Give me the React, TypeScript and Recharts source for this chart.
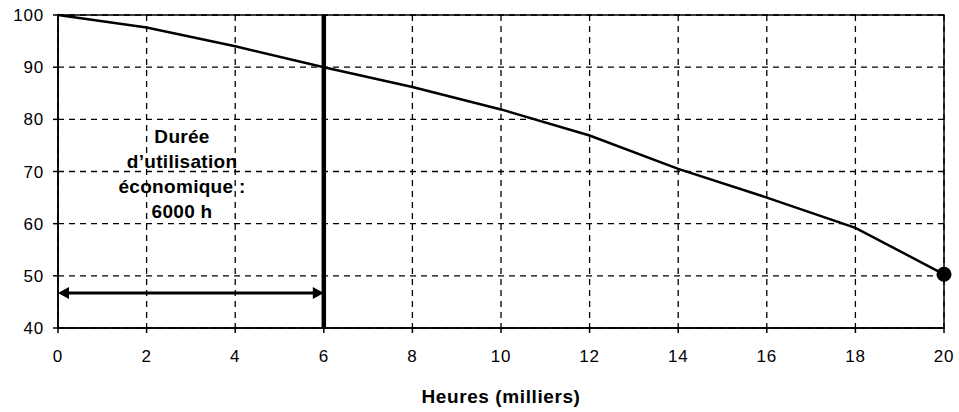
import React from "react";
import {
  LineChart,
  Line,
  XAxis,
  YAxis,
  CartesianGrid,
  ReferenceLine,
  ReferenceArea,
  ReferenceDot,
  Label,
} from "recharts";

const hours = [0, 2, 4, 6, 8, 10, 12, 14, 16, 18, 20];
const values = [100, 97.6, 94, 90, 86.2, 81.9, 76.9, 70.5, 65, 59.2, 50.3];
const xTicks = [0, 2, 4, 6, 8, 10, 12, 14, 16, 18, 20];
const yTicks = [40, 50, 60, 70, 80, 90, 100];
const noteLines = ["Durée", "d’utilisation", "économique :", "6000 h"];
const lifetime = 6;
const arrowLevel = 46.7;
const noteAnchor = { x: 2.8, y: 69.5 };

const data = hours.map((h, i) => ({ h, v: values[i] }));

const font = "'Liberation Sans', Arial, sans-serif";

function EndDot(props: any) {
  const { cx, cy, index } = props;
  if (index !== data.length - 1) return <g key={index} />;
  return <circle key={index} cx={cx} cy={cy} r={7.5} fill="#000" />;
}

function ArrowShape(props: any) {
  const { x1, y1, x2, y2 } = props;
  if (x1 == null) return null;
  const y = y1;
  const a = 11;
  const w = 6;
  return (
    <g>
      <line x1={x1 + 4} y1={y} x2={x2 - 4} y2={y2} stroke="#000" strokeWidth={3} />
      <polygon points={`${x1},${y} ${x1 + a},${y - w} ${x1 + a},${y + w}`} fill="#000" />
      <polygon points={`${x2},${y} ${x2 - a},${y - w} ${x2 - a},${y + w}`} fill="#000" />
    </g>
  );
}

function NoteShape(props: any) {
  const { cx, cy } = props;
  const gap = 25;
  const start = cy - ((noteLines.length - 1) * gap) / 2;
  return (
    <g>
      {noteLines.map((t, i) => (
        <text
          key={i}
          x={cx}
          y={start + i * gap}
          textAnchor="middle"
          dominantBaseline="central"
          fontFamily={font}
          fontWeight="bold"
          fontSize={19}
          letterSpacing={0.3}
          fill="#000"
        >
          {t}
        </text>
      ))}
    </g>
  );
}

export default function App() {
  return (
    <div style={{ position: "absolute", left: 0, top: 0, background: "#fff" }}>
      <LineChart
        width={959}
        height={412}
        data={data}
        margin={{ top: 15, right: 15, bottom: 0, left: 0 }}
      >
        <CartesianGrid stroke="#000" strokeDasharray="6 5" strokeWidth={1.3} />
        <XAxis
          dataKey="h"
          type="number"
          domain={[0, 20]}
          ticks={xTicks}
          height={84}
          stroke="#000"
          strokeWidth={1.5}
          tickSize={5}
          tickMargin={17}
          tick={{ fill: "#000", fontSize: 17, fontFamily: font, letterSpacing: 0.8 }}
        >
          <Label
            value="Heures (milliers)"
            position="insideBottom"
            offset={9}
            style={{ fill: "#000", fontSize: 19, fontWeight: "bold", fontFamily: font, letterSpacing: 0.6 }}
          />
        </XAxis>
        <YAxis
          type="number"
          domain={[40, 100]}
          ticks={yTicks}
          width={58}
          stroke="#000"
          strokeWidth={1.5}
          tickSize={5}
          tickMargin={9}
          tick={{ fill: "#000", fontSize: 17, fontFamily: font, letterSpacing: 0.8 }}
        />
        <ReferenceArea x1={0} x2={20} y1={40} y2={100} fill="none" stroke="#000" strokeWidth={1.5} />
        <ReferenceLine x={lifetime} stroke="#000" strokeWidth={4.5} />
        <ReferenceLine
          segment={[
            { x: 0, y: arrowLevel },
            { x: lifetime, y: arrowLevel },
          ]}
          shape={<ArrowShape />}
        />
        <ReferenceDot x={noteAnchor.x} y={noteAnchor.y} r={0} shape={<NoteShape />} />
        <Line
          type="linear"
          dataKey="v"
          stroke="#000"
          strokeWidth={2.5}
          dot={<EndDot />}
          activeDot={false}
          isAnimationActive={false}
        />
      </LineChart>
    </div>
  );
}
